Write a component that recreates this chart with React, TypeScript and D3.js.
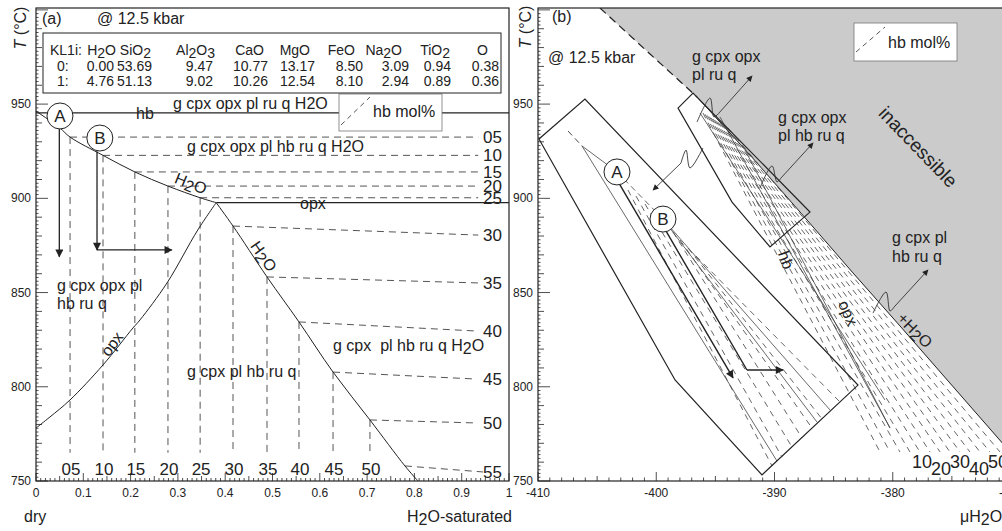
import React from "react";
import * as d3 from "d3";

type P = [number, number];

// ---------------- Panel (a) data ----------------
const oxides = ["H2O", "SiO2", "Al2O3", "CaO", "MgO", "FeO", "Na2O", "TiO2", "O"];
const bulk0 = [0.0, 53.69, 9.47, 10.77, 13.17, 8.5, 3.09, 0.94, 0.38];
const bulk1 = [4.76, 51.13, 9.02, 10.26, 12.54, 8.1, 2.94, 0.89, 0.36];
const xTicksA = [0, 0.1, 0.2, 0.3, 0.4, 0.5, 0.6, 0.7, 0.8, 0.9, 1];
const xTickLabelsA = ["0", "0.1", "0.2", "0.3", "0.4", "0.5", "0.6", "0.7", "0.8", "0.9", "1"];
const tTicks = [750, 800, 850, 900, 950];
const xTicksB = [-410, -400, -390, -380, -370];

const satCurveA: P[] = [[0, 946.3], [0.0507, 937.3], [0.072, 932.5], [0.1417, 922.8], [0.209, 914], [0.279, 906.5], [0.347, 900.3], [0.381, 897.7]];
const hbOutT = 945.3;
const opxOutA: P[] = [[0.381, 897.7], [1, 897.7]];
const cpxCurveA: P[] = [[0.381, 897.7], [0.342, 883.2], [0.277, 855.1], [0.22, 835.5], [0.205, 831.2], [0.1417, 811.6], [0.0719, 793], [0.0296, 784], [0, 778.1]];
const satLineA: P[] = [[0.381, 897.7], [0.4165, 885.3], [0.4884, 858.3], [0.556, 834.4], [0.628, 807.8], [0.706, 782.4], [0.78, 758], [0.8076, 750]];
const hbLabels = ["05", "10", "15", "20", "25", "30", "35", "40", "45", "50", "55"];
const hbCornerX = [0.072, 0.1417, 0.209, 0.279, 0.347, 0.4165, 0.4884, 0.556, 0.628, 0.706, 0.78];
const hbCornerT = [932.5, 922.8, 914, 906.5, 900.3, 885.3, 858.3, 834.4, 807.8, 782.4, 758];
const hbEndX = [0.935, 0.935, 0.935, 0.935, 0.935, 0.935, 0.935, 0.93, 0.93, 0.93, 0.945];
const hbEndT = [932.5, 922.8, 914, 906.5, 900.3, 880.5, 855.1, 829.6, 804.1, 780.8, 754.8];
const hbFloorT = 765;
const circlesA: { id: string; p: P }[] = [{ id: "A", p: [0.0507, 943.7] }, { id: "B", p: [0.135, 932] }];
const arrowA_a: P[] = [[0.0493, 937], [0.0493, 869]];
const arrowB_a1: P[] = [[0.129, 925], [0.129, 872.6]];
const arrowB_a2: P[] = [[0.129, 872.6], [0.287, 872.6]];

// ---------------- Panel (b) data ----------------
const grayEdgeB: P[] = [[-404.76, 1001], [-400.53, 976.6], [-396.55, 953.8], [-392.07, 923], [-387.25, 888.5], [-383.36, 860.4], [-379.39, 832.3], [-370, 764.9]];
const box1B: P[] = [[-409.92, 931.5], [-406.03, 952.7], [-382.94, 800.9], [-391.06, 753.2], [-398.41, 803.6]];
const box2B: P[] = [[-398.16, 947.9], [-396.89, 955.9], [-387.0, 892.7], [-390.38, 874.2], [-393.59, 898.0]];
const circlesB: { id: string; p: P }[] = [{ id: "A", p: [-403.32, 914.0] }, { id: "B", p: [-399.43, 889.0] }];
const pathA_B: P[] = [[-403.07, 907.1], [-393.51, 804.7]];
const pathB_B: P[] = [[-399.18, 882.7], [-392.33, 808.9]];
const pathB_B2: P[] = [[-392.33, 808.9], [-389.28, 808.9]];
const startDashB: P[] = [[-407.46, 935.7], [-406.28, 927.8]];
const thinLinesB: P[][] = [
  [[-406.28, 927.8], [-389.79, 760.6]],
  [[-406.28, 927.8], [-403.32, 914.0]],
  [[-399.43, 889.0], [-386.41, 781.3]],
  [[-399.43, 889.0], [-385.31, 787.7]],
  [[-396.3, 945.3], [-380.66, 793.0]],
  [[-394.61, 943.2], [-380.23, 778.1]],
  [[-392.49, 925.6], [-380.23, 778.1]],
];
// hb isopleths inside the large box (start, end)
const box1Dashes: P[][] = [
  [[-402.39, 904.4], [-390.21, 758.0]],
  [[-401.71, 901.2], [-389.37, 762.7]],
  [[-400.95, 897.0], [-388.52, 768.0]],
  [[-398.58, 882.1], [-387.67, 772.8]],
  [[-397.99, 877.9], [-386.83, 778.1]],
  [[-397.31, 873.6], [-385.98, 782.9]],
  [[-396.64, 869.4], [-384.46, 791.9]],
];
// hb isopleths near the H2O-saturation boundary
const fan2StartMu = [-396.05, -395.87, -395.69, -395.51, -395.34, -395.17, -394.99, -394.81, -394.63, -394.46, -394.29, -394.11, -393.93];
const fan2StartT = [945.3, 944.6, 944.0, 943.3, 942.6, 942.0, 941.3, 940.6, 940.0, 939.3, 938.6, 938.0, 937.3];
const fan2EndMu = [-381.08, -380.23, -379.39, -378.54, -377.7, -376.85, -376.0, -375.16, -374.31, -373.47, -372.62, -371.78, -370.93];
const fan2EndT = 765.4;
const callouts: P[][] = [
  [[-396.55, 940.5], [-395.45, 953.2], [-395.12, 943.2], [-394.69, 945.3], [-391.9, 964.9]],
  [[-391.23, 905.5], [-390.21, 917.2], [-389.79, 908.7], [-389.45, 910.8], [-386.74, 929.4]],
  [[-396.05, 926.7], [-397.15, 916.1], [-397.48, 925.6], [-397.91, 918.7], [-400.27, 904.4]],
  [[-381.67, 839.1], [-380.57, 850.3], [-380.23, 840.2], [-379.89, 842.3], [-377.02, 862.0]],
];
const fanLabelsB = ["10", "20", "30", "40", "50"];

// ---------------- scales ----------------
const xA = d3.scaleLinear().domain([0, 1]).range([36, 509]);
const yT = d3.scaleLinear().domain([750, 1001]).range([481, 8]);
const xB = d3.scaleLinear().domain([-410, -370]).range([538, 1011]);
const lineA = d3.line<P>().x((d) => xA(d[0])).y((d) => yT(d[1]));
const curveA = d3.line<P>().x((d) => xA(d[0])).y((d) => yT(d[1])).curve(d3.curveCatmullRom.alpha(0.5));
const lineB = d3.line<P>().x((d) => xB(d[0])).y((d) => yT(d[1]));
const curveB = d3.line<P>().x((d) => xB(d[0])).y((d) => yT(d[1])).curve(d3.curveCatmullRom.alpha(0.5));

const FONT = "'Liberation Sans', Arial, Helvetica, sans-serif";
const INK = "#222";
const DASH = "7 5";
const TFS = 14;
const colRight = [114, 152, 213, 268, 315, 363, 409, 451, 499];
const headRight = [116, 151, 215, 264, 310, 355, 402, 450, 488];

function chem(s: string, sub = 3) {
  const parts = s.split(/(\d)/).filter((p) => p !== "");
  let low = false;
  return parts.map((p, i) => {
    if (/\d/.test(p)) {
      const el = <tspan key={i} dy={low ? 0 : sub}>{p}</tspan>;
      low = true;
      return el;
    }
    const el = <tspan key={i} dy={low ? -sub : 0}>{p}</tspan>;
    low = false;
    return el;
  });
}

function LeftAxis({ x0 }: { x0: number }) {
  const ticks = d3.range(750, 1001, 2);
  return (
    <g>
      {ticks.map((t) => {
        const len = t % 50 === 0 ? 12 : t % 10 === 0 ? 6 : 2.5;
        return <line key={t} x1={x0} x2={x0 + len} y1={yT(t)} y2={yT(t)} stroke={INK} strokeWidth={0.8} />;
      })}
      {tTicks.map((t) => (
        <text key={t} x={x0 - 5} y={yT(t) + 4} fontSize={12} textAnchor="end" fill={INK}>{t}</text>
      ))}
    </g>
  );
}

export default function App() {
  const fan2: P[][] = fan2StartMu.map((m, i) => [[m, fan2StartT[i]], [fan2EndMu[i], fan2EndT]]);
  const grayPoly: P[] = [...grayEdgeB, [-370, 1001]];
  return (
    <svg width={1002} height={531} style={{ position: "absolute", left: 0, top: 0, background: "#fff" }} fontFamily={FONT}>
      <defs>
        <clipPath id="clipA"><rect x={36} y={8} width={473} height={473} /></clipPath>
        <clipPath id="clipB"><rect x={538} y={8} width={473} height={473} /></clipPath>
        <marker id="head" viewBox="0 0 10 10" refX={9} refY={5} markerWidth={9} markerHeight={8} markerUnits="userSpaceOnUse" orient="auto">
          <path d="M0,0 L10,5 L0,10 z" fill={INK} />
        </marker>
        <marker id="headS" viewBox="0 0 10 10" refX={9} refY={5} markerWidth={7} markerHeight={6} markerUnits="userSpaceOnUse" orient="auto">
          <path d="M0,0 L10,5 L0,10 z" fill={INK} />
        </marker>
      </defs>

      {/* ================= Panel (a) ================= */}
      <g clipPath="url(#clipA)">
        {hbLabels.map((lab, i) => (
          <g key={lab}>
            <path d={lineA([[hbCornerX[i], hbCornerT[i]], [hbEndX[i], hbEndT[i]]])!} stroke="#555" strokeWidth={1} strokeDasharray={DASH} fill="none" />
            {i < 10 && (
              <path d={lineA([[hbCornerX[i], hbCornerT[i]], [hbCornerX[i], hbFloorT]])!} stroke="#555" strokeWidth={1} strokeDasharray={DASH} fill="none" />
            )}
          </g>
        ))}
        <path d={lineA([[0, hbOutT], [1, hbOutT]])!} stroke={INK} strokeWidth={1.3} fill="none" />
        <path d={curveA(satCurveA)!} stroke={INK} strokeWidth={1} fill="none" />
        <path d={lineA(opxOutA)!} stroke={INK} strokeWidth={1.3} fill="none" />
        <path d={curveA(cpxCurveA)!} stroke={INK} strokeWidth={1} fill="none" />
        <path d={curveA(satLineA)!} stroke={INK} strokeWidth={1} fill="none" />
        <path d={lineA(arrowA_a)!} stroke={INK} strokeWidth={1.3} fill="none" markerEnd="url(#head)" />
        <path d={lineA(arrowB_a1)!} stroke={INK} strokeWidth={1.3} fill="none" markerEnd="url(#head)" />
        <path d={lineA(arrowB_a2)!} stroke={INK} strokeWidth={1.3} fill="none" markerEnd="url(#head)" />
        {circlesA.map((c) => (
          <g key={c.id}>
            <circle cx={xA(c.p[0])} cy={yT(c.p[1])} r={13} fill="#fff" stroke={INK} strokeWidth={1} />
            <text x={xA(c.p[0])} y={yT(c.p[1]) + 6} fontSize={17} textAnchor="middle" fill={INK}>{c.id}</text>
          </g>
        ))}
        <text x={136} y={119} fontSize={16} fill={INK}>hb</text>
        <text x={173} y={109} fontSize={16} fill={INK}>g cpx opx pl ru q H2O</text>
        <text x={187} y={152} fontSize={16} fill={INK}>g cpx opx pl hb ru q H2O</text>
        <text transform="translate(191,183) rotate(22)" fontSize={16} textAnchor="middle" dominantBaseline="central" fill={INK}>{chem("H2O", 3)}</text>
        <text x={300} y={209} fontSize={16} fill={INK}>opx</text>
        <text transform="translate(264,256) rotate(55)" fontSize={16} textAnchor="middle" dominantBaseline="central" fill={INK}>{chem("H2O", 3)}</text>
        <text x={57} y={291} fontSize={16} fill={INK}>g cpx opx pl</text>
        <text x={57} y={309} fontSize={16} fill={INK}>hb ru q</text>
        <text transform="translate(112,344) rotate(-53)" fontSize={16} textAnchor="middle" dominantBaseline="central" fill={INK}>opx</text>
        <text x={187} y={377} fontSize={16} fill={INK}>g cpx pl hb ru q</text>
        <text x={333} y={351} fontSize={16} fill={INK} xmlSpace="preserve">{"g cpx  pl hb ru q H"}<tspan dy={3}>2</tspan><tspan dy={-3}>O</tspan></text>
        {hbLabels.slice(0, 10).map((lab, i) => (
          <text key={lab} x={xA(hbCornerX[i]) + 1} y={475} fontSize={17} textAnchor="middle" fill={INK}>{lab}</text>
        ))}
        {hbLabels.map((lab, i) => (
          <text key={"r" + lab} x={483} y={yT(hbEndT[i]) + 6} fontSize={17} fill={INK}>{lab}</text>
        ))}
      </g>
      {/* legend a */}
      <rect x={339} y={94} width={103} height={37} fill="#fff" stroke="#777" strokeWidth={0.8} />
      <line x1={341} y1={125} x2={370} y2={97} stroke="#555" strokeDasharray="5 4" />
      <text x={373} y={117} fontSize={16} fill={INK}>hb mol%</text>
      {/* composition table */}
      <rect x={43} y={33} width={458} height={60} fill="#fff" stroke={INK} strokeWidth={1} />
      <text x={50} y={55} fontSize={TFS} fill={INK}>KL1i:</text>
      {oxides.map((o, i) => (
        <text key={o} x={headRight[i]} y={55} fontSize={TFS} textAnchor="end" fill={INK}>{chem(o, 2.5)}</text>
      ))}
      <text x={57} y={71} fontSize={TFS} fill={INK}>0:</text>
      <text x={57} y={86} fontSize={TFS} fill={INK}>1:</text>
      {bulk0.map((v, i) => (
        <text key={"b0" + i} x={colRight[i]} y={71} fontSize={TFS} textAnchor="end" fill={INK}>{v.toFixed(2)}</text>
      ))}
      {bulk1.map((v, i) => (
        <text key={"b1" + i} x={colRight[i]} y={86} fontSize={TFS} textAnchor="end" fill={INK}>{v.toFixed(2)}</text>
      ))}
      <text x={42} y={24} fontSize={16} fill={INK}>(a)</text>
      <text x={97} y={24} fontSize={16} fill={INK}>@ 12.5 kbar</text>
      <rect x={36} y={8} width={473} height={473} fill="none" stroke={INK} strokeWidth={1.2} />
      <LeftAxis x0={36} />
      {d3.range(0, 101).map((k) => {
        const len = k % 10 === 0 ? 8 : k % 5 === 0 ? 5 : 3;
        return <line key={k} x1={xA(k / 100)} x2={xA(k / 100)} y1={481} y2={481 - len} stroke={INK} strokeWidth={0.8} />;
      })}
      {xTicksA.map((v, i) => (
        <text key={v} x={xA(v)} y={497} fontSize={12} textAnchor="middle" fill={INK}>{xTickLabelsA[i]}</text>
      ))}
      <text x={24} y={522} fontSize={16} fill={INK}>dry</text>
      <text x={407} y={522} fontSize={16} fill={INK}>{chem("H2O", 3)}<tspan>-saturated</tspan></text>
      <text transform="translate(20,28) rotate(-90)" fontSize={16} textAnchor="middle" dominantBaseline="central" fill={INK}>
        <tspan fontStyle="italic">T</tspan> (°C)
      </text>

      {/* ================= Panel (b) ================= */}
      <g clipPath="url(#clipB)">
        <path d={lineB(grayPoly)! + "Z"} fill="#cbcbcb" stroke="none" />
        <path d={lineB(grayEdgeB.slice(0, 3))!} stroke={INK} strokeWidth={1.2} strokeDasharray="8 5" fill="none" />
        <path d={lineB(grayEdgeB.slice(2))!} stroke={INK} strokeWidth={1} fill="none" />
        {box1Dashes.map((l, i) => (
          <path key={"f1" + i} d={lineB(l)!} stroke="#555" strokeWidth={0.9} strokeDasharray="6 5" fill="none" />
        ))}
        {fan2.map((l, i) => (
          <path key={"f2" + i} d={lineB(l)!} stroke="#555" strokeWidth={0.9} strokeDasharray="6 5" fill="none" />
        ))}
        <path d={lineB(startDashB)!} stroke="#444" strokeWidth={1} strokeDasharray="6 4" fill="none" />
        <path d={lineB([circlesB[0].p, circlesB[1].p])!} stroke="#555" strokeWidth={0.9} strokeDasharray="6 4" fill="none" />
        {thinLinesB.map((l, i) => (
          <path key={"t" + i} d={lineB(l)!} stroke="#444" strokeWidth={0.8} fill="none" />
        ))}
        <path d={lineB(box1B)! + "Z"} stroke={INK} strokeWidth={1.2} fill="none" />
        <path d={lineB(box2B)! + "Z"} stroke={INK} strokeWidth={1.2} fill="none" />
        <path d={lineB(pathA_B)!} stroke={INK} strokeWidth={1.4} fill="none" markerEnd="url(#head)" />
        <path d={lineB(pathB_B)!} stroke={INK} strokeWidth={1.4} fill="none" />
        <path d={lineB(pathB_B2)!} stroke={INK} strokeWidth={1.4} fill="none" markerEnd="url(#head)" />
        {callouts.map((c, i) => (
          <g key={"c" + i}>
            <path d={curveB(c.slice(0, 4))!} stroke="#333" strokeWidth={0.9} fill="none" />
            <path d={lineB(c.slice(3))!} stroke="#333" strokeWidth={0.9} fill="none" markerEnd="url(#headS)" />
          </g>
        ))}
        {circlesB.map((c) => (
          <g key={c.id}>
            <circle cx={xB(c.p[0])} cy={yT(c.p[1])} r={13} fill="#fff" stroke={INK} strokeWidth={1} />
            <text x={xB(c.p[0])} y={yT(c.p[1]) + 6} fontSize={17} textAnchor="middle" fill={INK}>{c.id}</text>
          </g>
        ))}
        <text x={552} y={22} fontSize={16} fill={INK}>(b)</text>
        <text x={548} y={63} fontSize={16} fill={INK}>@ 12.5 kbar</text>
        <text x={692} y={62} fontSize={16} fill={INK}>g cpx opx</text>
        <text x={692} y={80} fontSize={16} fill={INK}>pl ru q</text>
        <text x={778} y={123} fontSize={16} fill={INK}>g cpx opx</text>
        <text x={778} y={141} fontSize={16} fill={INK}>pl hb ru q</text>
        <text transform="translate(918,147) rotate(46)" fontSize={19} textAnchor="middle" dominantBaseline="central" fill={INK}>inaccessible</text>
        <text x={892} y={243} fontSize={16} fill={INK}>g cpx pl</text>
        <text x={892} y={262} fontSize={16} fill={INK}>hb ru q</text>
        <text transform="translate(786,260) rotate(70)" fontSize={16} textAnchor="middle" dominantBaseline="central" fill={INK}>hb</text>
        <text transform="translate(848,313) rotate(66)" fontSize={16} textAnchor="middle" dominantBaseline="central" fill={INK}>opx</text>
        <text transform="translate(915,330) rotate(45)" fontSize={16} textAnchor="middle" dominantBaseline="central" fill={INK}>+{chem("H2O", 3)}</text>
        {fanLabelsB.map((lab, i) => (
          <text key={lab} x={922 + i * 19} y={(i % 2 === 0 ? 462 : 469) + 6} fontSize={18} textAnchor="middle" fill={INK}>{lab}</text>
        ))}
        <rect x={854} y={23} width={103} height={38} fill="#fff" stroke="#777" strokeWidth={0.8} />
        <line x1={856} y1={52} x2={885} y2={27} stroke="#555" strokeDasharray="5 4" />
        <text x={888} y={48} fontSize={16} fill={INK}>hb mol%</text>
      </g>
      <rect x={538} y={8} width={473} height={473} fill="none" stroke={INK} strokeWidth={1.2} />
      <LeftAxis x0={538} />
      {d3.range(-410, -369, 1).map((v) => {
        const len = v % 10 === 0 ? 9 : v % 5 === 0 ? 5 : 3.5;
        return <line key={v} x1={xB(v)} x2={xB(v)} y1={481} y2={481 - len} stroke={INK} strokeWidth={0.8} />;
      })}
      {xTicksB.map((v) => (
        <text key={v} x={xB(v)} y={497} fontSize={12} textAnchor="middle" fill={INK}>{v}</text>
      ))}
      <text x={960} y={522} fontSize={16} fill={INK}>μ{chem("H2O", 3)}</text>
      <text transform="translate(525,27) rotate(-90)" fontSize={16} textAnchor="middle" dominantBaseline="central" fill={INK}>
        <tspan fontStyle="italic">T</tspan> (°C)
      </text>
    </svg>
  );
}
